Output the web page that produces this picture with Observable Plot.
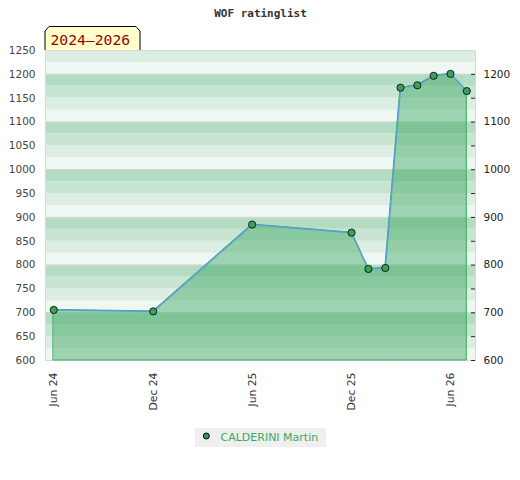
<!DOCTYPE html>
<html>
<head>
<meta charset="utf-8">
<script src="https://cdn.jsdelivr.net/npm/d3@7"></script>
<script src="https://cdn.jsdelivr.net/npm/@observablehq/plot@0.6"></script>
<style>
  html, body { margin: 0; padding: 0; background: #fff; }
  #chart svg { display: block; }
</style>
</head>
<body>
<div id="chart"></div>
<script>
// ---- data ----
const title = "WOF ratinglist";
const periodLabel = "2024–2026";
const playerName = "CALDERINI Martin";
const dates = ["2024-06-01","2024-12-01","2025-06-01","2025-12-01","2026-01-01","2026-02-01","2026-03-01","2026-04-01","2026-05-01","2026-06-01","2026-07-01"];
const ratings = [706, 703, 885, 868, 792, 794, 1172, 1177, 1197, 1201, 1165];
const xTickDates = ["2024-06-01","2024-12-01","2025-06-01","2025-12-01","2026-06-01"];
const xTickLabels = ["Jun 24","Dec 24","Jun 25","Dec 25","Jun 26"];
const yLeftTicks = [600,650,700,750,800,850,900,950,1000,1050,1100,1150,1200,1250];
const yRightTicks = [600,700,800,900,1000,1100,1200];
const yMinorTicks = [650,750,850,950,1050,1150];

const data = dates.map((d, i) => ({date: new Date(d), rating: ratings[i]}));

// background bands of 25 points, shaded by position within each hundred
const stripeColors = ["#eef7f1", "#dcede2", "#c8e5d2", "#b3dcc2"];
const stripes = d3.range(600, 1250, 25).map(v => ({lo: v, hi: v + 25, k: ((v - 600) / 25) % 4}));

const fontFamily = "DejaVu Sans, sans-serif";

const decor = (index, scales, values, dim) => {
  const g = d3.create("svg:g").attr("text-anchor", "start");
  // period label box above the frame
  const L = dim.marginLeft, T = dim.marginTop;
  g.append("path")
    .attr("d", `M${L},${T} V${T-19} L${L+4},${T-23.5} H${L+91} L${L+95},${T-19} V${T}`)
    .attr("fill", "#ffffcc").attr("stroke", "#000").attr("stroke-width", 1);
  g.append("text")
    .attr("x", L + 5.5).attr("y", T - 5)
    .attr("text-anchor", "start")
    .attr("fill", "#990000")
    .attr("font-family", "DejaVu Sans Mono, monospace")
    .attr("font-size", 14.7)
    .text(periodLabel);
  // legend
  g.append("rect").attr("x", 195).attr("y", 428).attr("width", 131).attr("height", 19).attr("fill", "#efefef");
  g.append("circle").attr("cx", 206.3).attr("cy", 436).attr("r", 3).attr("fill", "#2e9a55").attr("stroke", "#000").attr("stroke-width", 1);
  g.append("text").attr("x", 220.5).attr("y", 440.5)
    .attr("text-anchor", "start")
    .attr("fill", "#3aa864").attr("font-family", fontFamily).attr("font-size", 11)
    .text(playerName);
  return g.node();
};

const fmt = d => String(d);

const chart = Plot.plot({
  width: 520,
  height: 480,
  marginTop: 50,
  marginBottom: 120,
  marginLeft: 45,
  marginRight: 45,
  style: {fontFamily, background: "#fff"},
  x: {type: "utc", domain: [new Date(Date.UTC(2024, 4, 16, 18)), new Date(Date.UTC(2026, 6, 17))]},
  y: {domain: [600, 1250]},
  marks: [
    ...stripeColors.map((c, k) => Plot.rect(stripes.filter(s => s.k === k), {y1: "lo", y2: "hi", fill: c})),
    Plot.ruleY(yRightTicks, {stroke: "#d6d6d6", strokeWidth: 1}),
    Plot.frame({stroke: "#d8d8d8"}),
    Plot.areaY(data, {x: "date", y1: 600, y2: "rating", fill: "#2fa359", fillOpacity: 0.42, stroke: "#38ad5c", strokeWidth: 1}),
    Plot.line(data, {x: "date", y: "rating", stroke: "#5b9fd8", strokeWidth: 1.5}),
    Plot.dot(data, {x: "date", y: "rating", r: 3.6, fill: "#3aa15d", stroke: "#000", strokeWidth: 0.8}),
    Plot.axisY({anchor: "left", ticks: yLeftTicks, tickFormat: fmt, tickSize: 0, tickPadding: 10, fontSize: 10.5, color: "#444", label: null}),
    Plot.axisY({anchor: "right", ticks: yRightTicks, tickFormat: fmt, tickSize: 4, dx: -5, tickPadding: 9, fontSize: 10.5, color: "#222", label: null}),
    Plot.axisY({anchor: "right", ticks: yMinorTicks, tickSize: 4, dx: -5, tickFormat: () => "", color: "#222", label: null}),
    Plot.axisX({ticks: xTickDates.map(d => new Date(d)), tickFormat: (d, i) => xTickLabels[i], tickRotate: -90, tickSize: 0, tickPadding: 12, fontSize: 10.8, color: "#333", label: null}),
    Plot.text([title], {frameAnchor: "top", dy: -33.5, lineAnchor: "bottom", text: d => d, fontFamily: "DejaVu Sans Mono, monospace", fontWeight: "bold", fontSize: 11, fill: "#333", letterSpacing: 0.6}),
    decor
  ]
});
document.getElementById("chart").append(chart);
</script>
</body>
</html>
